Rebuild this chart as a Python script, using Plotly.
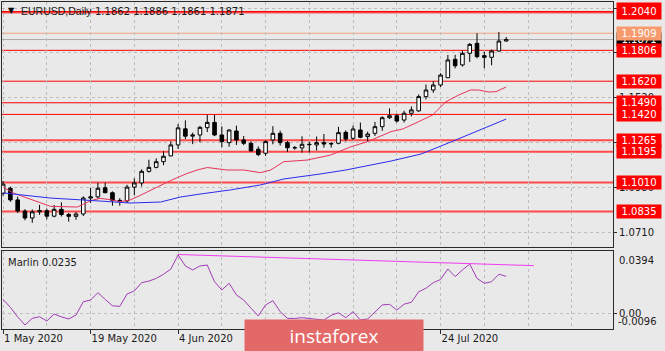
import plotly.graph_objects as go

# ---------------- data ----------------
bar_index = list(range(70))  # daily bars, 1 May 2020 ... 6 Aug 2020

opens = [1.0945, 1.0975, 1.0905, 1.0838, 1.0796, 1.0833, 1.0840, 1.0807, 1.0848, 1.0817,
         1.0806, 1.0820, 1.0916, 1.0923, 1.0978, 1.0948, 1.0902, 1.0898, 1.0982, 1.1007,
         1.1077, 1.1101, 1.1135, 1.1170, 1.1236, 1.1333, 1.1289, 1.1296, 1.1340, 1.1372,
         1.1296, 1.1250, 1.1320, 1.1266, 1.1246, 1.1210, 1.1186, 1.1266, 1.1306, 1.1250,
         1.1219, 1.1218, 1.1240, 1.1236, 1.1250, 1.1242, 1.1246, 1.1312, 1.1276, 1.1326,
         1.1286, 1.1306, 1.1346, 1.1400, 1.1412, 1.1386, 1.1427, 1.1441, 1.1527, 1.1567,
         1.1597, 1.1641, 1.1752, 1.1718, 1.1788, 1.1848, 1.1774, 1.1764, 1.1802, 1.1862]
highs = [1.1019, 1.0985, 1.0925, 1.0849, 1.0847, 1.0875, 1.0852, 1.0874, 1.0890, 1.0827,
         1.0831, 1.0926, 1.0978, 1.1008, 1.1009, 1.0956, 1.0915, 1.0996, 1.1035, 1.1089,
         1.1147, 1.1155, 1.1198, 1.1257, 1.1362, 1.1384, 1.1310, 1.1351, 1.1418, 1.1418,
         1.1348, 1.1330, 1.1352, 1.1290, 1.1257, 1.1227, 1.1265, 1.1349, 1.1322, 1.1260,
         1.1230, 1.1288, 1.1256, 1.1287, 1.1302, 1.1253, 1.1345, 1.1324, 1.1353, 1.1371,
         1.1316, 1.1375, 1.1409, 1.1456, 1.1424, 1.1442, 1.1468, 1.1540, 1.1600, 1.1620,
         1.1668, 1.1778, 1.1779, 1.1805, 1.1850, 1.1909, 1.1798, 1.1810, 1.1916, 1.1886]
lows = [1.0930, 1.0893, 1.0826, 1.0782, 1.0767, 1.0815, 1.0788, 1.0800, 1.0805, 1.0774,
        1.0785, 1.0808, 1.0887, 1.0913, 1.0946, 1.0870, 1.0870, 1.0887, 1.0934, 1.0986,
        1.1069, 1.1095, 1.1114, 1.1168, 1.1212, 1.1272, 1.1241, 1.1252, 1.1314, 1.1289,
        1.1222, 1.1225, 1.1236, 1.1235, 1.1197, 1.1168, 1.1170, 1.1240, 1.1232, 1.1193,
        1.1208, 1.1190, 1.1190, 1.1202, 1.1220, 1.1220, 1.1240, 1.1258, 1.1265, 1.1276,
        1.1256, 1.1290, 1.1321, 1.1393, 1.1371, 1.1371, 1.1408, 1.1436, 1.1510, 1.1550,
        1.1585, 1.1639, 1.1698, 1.1708, 1.1736, 1.1758, 1.1698, 1.1716, 1.1797, 1.1861]
closes = [1.1000, 1.0905, 1.0838, 1.0796, 1.0833, 1.0840, 1.0807, 1.0848, 1.0817, 1.0806,
          1.0820, 1.0916, 1.0923, 1.0975, 1.0948, 1.0902, 1.0898, 1.0982, 1.1007, 1.1077,
          1.1101, 1.1135, 1.1168, 1.1236, 1.1339, 1.1289, 1.1296, 1.1342, 1.1372, 1.1296,
          1.1256, 1.1326, 1.1266, 1.1246, 1.1200, 1.1178, 1.1256, 1.1306, 1.1250, 1.1219,
          1.1219, 1.1240, 1.1238, 1.1250, 1.1242, 1.1244, 1.1310, 1.1272, 1.1332, 1.1282,
          1.1302, 1.1346, 1.1400, 1.1412, 1.1380, 1.1427, 1.1447, 1.1527, 1.1567, 1.1597,
          1.1657, 1.1748, 1.1713, 1.1788, 1.1842, 1.1768, 1.1764, 1.1802, 1.1862, 1.1871]

# moving averages (bar position, price)
ma_red_pos = [0, 1.4, 3.3, 5.1, 6.5, 10.2, 11, 12, 13.3, 14.7, 16, 17.4, 18.8, 20.6, 23, 25,
              26.6, 28, 30.7, 33, 35.3, 36.7, 38.5, 41.7, 44.9, 47.7, 50, 53.2, 54.8, 56.6,
              58.9, 60.7, 62.5, 64.1, 65.2, 66.6, 67.6, 69]
ma_red_val = [1.0983, 1.0947, 1.0916, 1.0886, 1.0866, 1.0862, 1.0880, 1.0900, 1.0914, 1.0906,
              1.0894, 1.0904, 1.0932, 1.0971, 1.1022, 1.1060, 1.1085, 1.1100, 1.1085, 1.1085,
              1.1069, 1.1085, 1.1135, 1.1145, 1.1175, 1.1225, 1.1256, 1.1316, 1.1332, 1.1368,
              1.1416, 1.1495, 1.1537, 1.1567, 1.1567, 1.1555, 1.1557, 1.1585]
ma_blue_pos = [0, 6.5, 13.3, 17.4, 21.6, 24.3, 27, 31.2, 35.3, 38.5, 43.5, 47, 53.2, 57.3,
               61.1, 65.5, 69]
ma_blue_val = [1.0947, 1.0916, 1.0898, 1.0886, 1.0892, 1.0922, 1.0940, 1.0965, 1.0995, 1.1031,
               1.1061, 1.1085, 1.1139, 1.1181, 1.1248, 1.1326, 1.1392]

# Marlin oscillator (lower window)
marlin = [0.0090, 0.0040, -0.0020, -0.0071, -0.0029, -0.0019, -0.0046, -0.0002, -0.0020, -0.0033,
          -0.0008, 0.0075, 0.0086, 0.0132, 0.0090, 0.0050, 0.0046, 0.0124, 0.0143, 0.0195,
          0.0205, 0.0222, 0.0248, 0.0280, 0.0369, 0.0300, 0.0275, 0.0300, 0.0306, 0.0201,
          0.0149, 0.0191, 0.0118, 0.0086, 0.0035, -0.0014, 0.0055, 0.0082, 0.0013, -0.0029,
          -0.0030, -0.0025, -0.0030, -0.0033, -0.0040, -0.0010, 0.0006, -0.0025, 0.0013, -0.0039,
          -0.0033, 0.0010, 0.0055, 0.0059, 0.0023, 0.0060, 0.0072, 0.0138, 0.0160, 0.0195,
          0.0215, 0.0281, 0.0233, 0.0275, 0.0312, 0.0222, 0.0191, 0.0201, 0.0248, 0.0235]
marlin_trend_pos = [24, 72.8]
marlin_trend_val = [0.0372, 0.0302]

# horizontal levels
red_levels = [1.2040, 1.1806, 1.1620, 1.1490, 1.1420, 1.1265, 1.1195, 1.1010, 1.0835]
red_levels_soft = [1.1265, 1.1195, 1.1010, 1.0835]
extra_red_line = [1.2032]
orange_level = 1.1909
bid_level = 1.1871
price_grid = [1.0710, 1.0980, 1.1250, 1.1520, 1.1790, 1.2060]

tick_pos = [0, 12, 24, 36, 48, 60]
tick_text = ["1 May 2020", "19 May 2020", "4 Jun 2020", "22 Jun 2020", "8 Jul 2020", "24 Jul 2020"]
grid_pos = [6, 18, 30, 42, 54, 66, 72, 78]

title_symbol = "EURUSD,Daily"
title_ohlc = "1.1862 1.1886 1.1861 1.1871"
marlin_label = "Marlin 0.0235"

# ---------------- styling ----------------
BG = "#E9E9E9"
GRID = "#BDBDBD"
FONT = "DejaVu Sans"
TXT = "#1a1a1a"
X_RANGE = [-0.15, 83.65]
Y_RANGE = [1.06211, 1.20972]
Y2_RANGE = [-0.0096, 0.0394]

fig = go.Figure()

fig.add_trace(go.Candlestick(
    x=bar_index, open=opens, high=highs, low=lows, close=closes,
    increasing=dict(line=dict(color="black", width=1), fillcolor="white"),
    decreasing=dict(line=dict(color="black", width=1), fillcolor="black"),
    whiskerwidth=0, showlegend=False, hoverinfo="skip", xaxis="x", yaxis="y"))

fig.add_trace(go.Scatter(x=ma_red_pos, y=ma_red_val, mode="lines",
                         line=dict(color="#E8335A", width=1), showlegend=False,
                         hoverinfo="skip", xaxis="x", yaxis="y"))
fig.add_trace(go.Scatter(x=ma_blue_pos, y=ma_blue_val, mode="lines",
                         line=dict(color="#2B2BEE", width=1), showlegend=False,
                         hoverinfo="skip", xaxis="x", yaxis="y"))

fig.add_trace(go.Scatter(x=bar_index, y=marlin, mode="lines",
                         line=dict(color="#A23BB5", width=1), showlegend=False,
                         hoverinfo="skip", xaxis="x2", yaxis="y2"))
fig.add_trace(go.Scatter(x=marlin_trend_pos, y=marlin_trend_val, mode="lines",
                         line=dict(color="#F03CF0", width=1), showlegend=False,
                         hoverinfo="skip", xaxis="x2", yaxis="y2"))

shapes = []
for lv in red_levels + extra_red_line:
    soft = lv in red_levels_soft
    shapes.append(dict(type="line", xref="x domain", yref="y", x0=0, x1=1, y0=lv, y1=lv,
                       line=dict(color="#FF4A4A" if soft else "#FF0000", width=2 if soft else 1),
                       layer="below"))
shapes.append(dict(type="line", xref="x domain", yref="y", x0=0, x1=1, y0=orange_level,
                   y1=orange_level, line=dict(color="#F3A27C", width=1), layer="below"))
shapes.append(dict(type="line", xref="x domain", yref="y", x0=0, x1=1, y0=bid_level,
                   y1=bid_level, line=dict(color="#A8A8A8", width=1), layer="below"))

ann = []
# current price (black) label first so others overlap it
ann.append(dict(x=1, xref="paper", xanchor="left", xshift=3, y=bid_level, yref="y",
                yanchor="middle", text=f"{bid_level:.4f}", showarrow=False,
                font=dict(family=FONT, size=10, color="white"), bgcolor="black",
                width=42, height=11, borderpad=1))
ann.append(dict(x=1, xref="paper", xanchor="left", xshift=3, y=orange_level, yref="y",
                yanchor="middle", text=f"{orange_level:.4f}", showarrow=False,
                font=dict(family=FONT, size=10, color="white"), bgcolor="#F79B6E",
                width=42, height=11, borderpad=1))
for lv in red_levels:
    ann.append(dict(x=1, xref="paper", xanchor="left", xshift=3, y=lv, yref="y",
                    yanchor="middle", text=f"{lv:.4f}", showarrow=False,
                    font=dict(family=FONT, size=10, color="white"), bgcolor="#FF0000",
                    width=42, height=11 if lv != 1.2040 else 14, borderpad=1))

# lower window labels
ann.append(dict(x=1, xref="paper", xanchor="left", xshift=4, y=Y2_RANGE[1], yref="y2",
                yanchor="top", yshift=-2, text="0.0394", showarrow=False,
                font=dict(family=FONT, size=10, color=TXT)))
ann.append(dict(x=1, xref="paper", xanchor="left", xshift=3, y=Y2_RANGE[0], yref="y2",
                yanchor="bottom", yshift=0, text="-0.0096", showarrow=False,
                font=dict(family=FONT, size=10, color=TXT)))

# title
ann.append(dict(x=0, xref="paper", xanchor="left", xshift=4, y=1, yref="paper",
                yanchor="middle", yshift=-8, text="▼", showarrow=False,
                font=dict(family=FONT, size=8, color="black")))
ann.append(dict(x=0, xref="paper", xanchor="left", xshift=17, y=1, yref="paper",
                yanchor="middle", yshift=-9, text=title_symbol, showarrow=False,
                font=dict(family="Liberation Sans", size=10.5, color=TXT)))
ann.append(dict(x=0, xref="paper", xanchor="left", xshift=91, y=1, yref="paper",
                yanchor="middle", yshift=-9, text=title_ohlc, showarrow=False,
                font=dict(family=FONT, size=10, color=TXT)))
ann.append(dict(x=0, xref="paper", xanchor="left", xshift=4, y=0.23853, yref="paper",
                yanchor="middle", yshift=-11, text=marlin_label, showarrow=False,
                font=dict(family=FONT, size=10, color=TXT)))

# watermark
ann.append(dict(x=(244 - 2) / 611, xref="paper", xanchor="left", y=(329 - 319) / 327,
                yref="paper", yanchor="top", text="instaforex", showarrow=False,
                font=dict(family="Open Sans", size=19, color="white"),
                bgcolor="#E36868", width=178, height=32, borderpad=0, align="center"))

axis_common = dict(showline=True, linecolor="#2a2a2a", linewidth=1, mirror=True,
                   zeroline=False, fixedrange=True)

fig.update_layout(
    width=665, height=351,
    margin=dict(l=2, r=52, t=2, b=22),
    paper_bgcolor=BG, plot_bgcolor=BG,
    showlegend=False, hovermode=False,
    shapes=shapes, annotations=ann,
    xaxis=dict(domain=[0, 1], anchor="y", range=X_RANGE, tickvals=tick_pos,
               showticklabels=False, ticks="", showgrid=True, gridcolor=GRID,
               griddash="3px,3px", gridwidth=1,
               minor=dict(tickvals=grid_pos, showgrid=True, gridcolor=GRID,
                          griddash="3px,3px", gridwidth=1, ticks=""),
               rangeslider=dict(visible=False), **axis_common),
    xaxis2=dict(domain=[0, 1], anchor="y2", range=X_RANGE, tickvals=tick_pos,
                ticktext=tick_text, ticks="outside", ticklen=4, tickcolor="#2a2a2a",
                ticklabelposition="outside right",
                tickfont=dict(family=FONT, size=10, color=TXT),
                showgrid=True, gridcolor=GRID, griddash="3px,3px", gridwidth=1,
                minor=dict(tickvals=grid_pos, showgrid=True, gridcolor=GRID,
                           griddash="3px,3px", gridwidth=1, ticks=""),
                **axis_common),
    yaxis=dict(domain=[0.25076, 1], anchor="x", range=Y_RANGE, side="right",
               tickvals=price_grid, ticktext=[f"{v:.4f}" for v in price_grid],
               ticks="outside", ticklen=3, tickcolor="#2a2a2a",
               tickfont=dict(family=FONT, size=10, color=TXT),
               showgrid=True, gridcolor=GRID, griddash="3px,3px", gridwidth=1,
               **axis_common),
    yaxis2=dict(domain=[0, 0.23853], anchor="x2", range=Y2_RANGE, side="right",
                tickvals=[0], ticktext=["0.00"], ticks="outside", ticklen=3,
                tickcolor="#2a2a2a", tickfont=dict(family=FONT, size=10, color=TXT),
                showgrid=True, gridcolor=GRID, griddash="3px,3px", gridwidth=1,
                **axis_common),
)

fig.write_html("out.html")
